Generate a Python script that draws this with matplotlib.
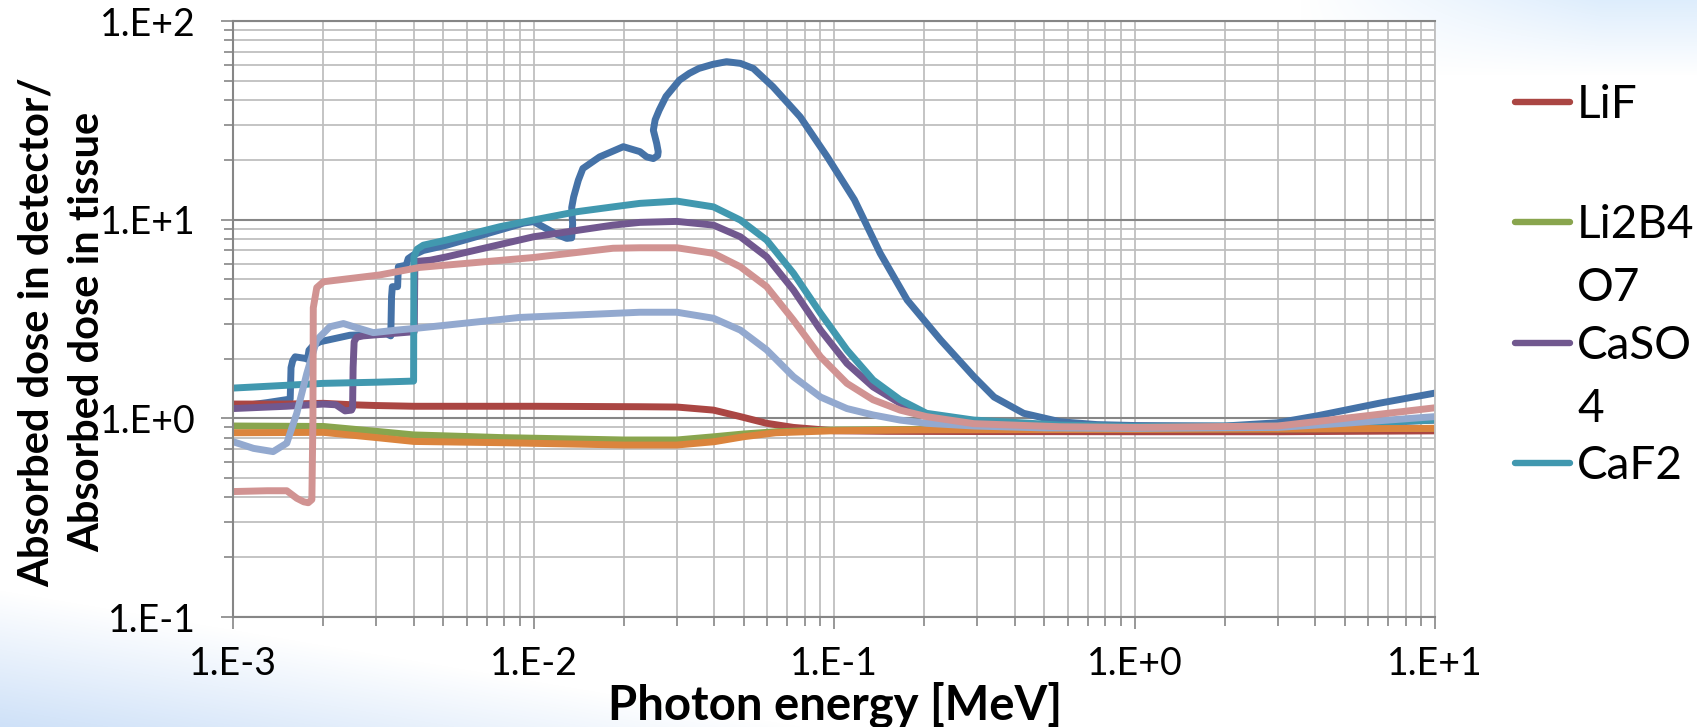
import numpy as np
import matplotlib
matplotlib.use("Agg")
import matplotlib.pyplot as plt
from matplotlib.lines import Line2D
from matplotlib.ticker import LogLocator, FuncFormatter, NullFormatter

plt.rcParams['font.family'] = ['Lato', 'DejaVu Sans']

# photon energy [MeV] / dose ratio, one pair of arrays per detector material
blue_e = [1e-3, 1.3e-3, 1.55e-3, 1.56e-3, 1.58e-3, 1.61e-3, 1.75e-3, 1.77e-3, 1.79e-3, 1.85e-3,
          1.95e-3, 2.45e-3, 3.25e-3, 3.35e-3, 3.37e-3, 3.39e-3, 3.53e-3, 3.55e-3, 3.77e-3, 3.83e-3,
          3.98e-3, 4.3e-3, 5.14e-3, 7e-3, 9.25e-3, 0.01, 0.011, 0.012, 0.0129, 0.0134, 0.0135,
          0.0134, 0.0136, 0.0141, 0.0146, 0.0166, 0.0199, 0.0226, 0.0238, 0.02505, 0.0259,
          0.026, 0.0257, 0.02505, 0.0254, 0.0262, 0.0276, 0.0306, 0.033, 0.0355, 0.0395, 0.0439,
          0.0488, 0.0539, 0.0627, 0.0772, 0.095, 0.1169, 0.1425, 0.1752, 0.2263, 0.2922, 0.341,
          0.4277, 0.5658, 0.75, 1.0, 2.0, 3.0, 4.06, 6.5, 10.0]
blue_r = [1.14, 1.2, 1.25, 1.8, 1.95, 2.04, 2.0, 1.98, 2.2, 2.33,
          2.43, 2.62, 2.66, 2.6, 4.09, 4.6, 4.6, 5.79, 5.9, 6.37,
          6.63, 7.0, 7.44, 8.5, 9.6, 9.78, 9.04, 8.4, 8.05, 8.1, 9.5,
          11.5, 13.0, 15.8, 18.1, 20.7, 23.3, 22.0, 20.7, 20.3, 21.0,
          22.0, 24.2, 28.2, 31.8, 35.6, 41.7, 50.4, 54.5, 57.7, 60.5, 62.4,
          61.2, 57.7, 46.6, 32.9, 20.7, 12.6, 6.77, 3.94, 2.48, 1.62, 1.28,
          1.06, 0.961, 0.93, 0.92, 0.915, 0.95, 1.03, 1.19, 1.34]

lif_e = [1e-3, 1.5e-3, 2e-3, 2.5e-3, 3e-3, 4e-3, 6e-3, 0.01, 0.0226, 0.03, 0.0397, 0.0488,
         0.0597, 0.0733, 0.1, 0.15, 0.3, 1.0, 3.0, 10.0]
lif_r = [1.18, 1.18, 1.19, 1.17, 1.16, 1.15, 1.15, 1.15, 1.144, 1.14, 1.10, 1.02,
         0.944, 0.90, 0.866, 0.86, 0.858, 0.856, 0.856, 0.865]

li2b4o7_e = [1e-3, 2e-3, 3e-3, 4e-3, 6e-3, 0.0078, 0.02, 0.03, 0.04, 0.05, 0.064, 0.1,
             0.2, 1.0, 3.0, 10.0]
li2b4o7_r = [0.915, 0.91, 0.86, 0.825, 0.81, 0.80, 0.778, 0.778, 0.808, 0.834, 0.856, 0.873,
             0.88, 0.885, 0.885, 0.89]

caso4_e = [1e-3, 1.5e-3, 2e-3, 2.2e-3, 2.36e-3, 2.48e-3, 2.5e-3, 2.51e-3, 2.53e-3, 2.58e-3,
           2.71e-3, 3.25e-3, 4.01e-3, 4.03e-3, 4.53e-3, 5.14e-3, 0.01, 0.0184, 0.0226, 0.03,
           0.0397, 0.0488, 0.0597, 0.0733, 0.0902, 0.1104, 0.1349, 0.166, 0.2032, 0.292,
           0.566, 1.0, 3.0, 10.0]
caso4_r = [1.12, 1.15, 1.18, 1.17, 1.09, 1.10, 1.13, 1.8, 2.43, 2.56,
           2.6, 2.66, 2.73, 6.15, 6.25, 6.5, 8.2, 9.39, 9.69, 9.8,
           9.39, 8.2, 6.5, 4.42, 2.78, 1.89, 1.44, 1.19, 1.04, 0.96,
           0.91, 0.90, 0.91, 0.98]

caf2_e = [1e-3, 2e-3, 3e-3, 3.99e-3, 4.0e-3, 4.1e-3, 4.3e-3, 5.14e-3, 7.74e-3, 0.01, 0.0139,
          0.0184, 0.0226, 0.03, 0.0397, 0.0488, 0.0597, 0.0733, 0.0902, 0.1104, 0.1349,
          0.166, 0.2032, 0.292, 0.566, 1.0, 3.0, 5.0, 10.0]
caf2_r = [1.42, 1.50, 1.52, 1.54, 6.5, 7.1, 7.44, 7.9, 9.22, 9.96, 10.96,
          11.6, 12.08, 12.4, 11.6, 9.95, 7.89, 5.37, 3.38, 2.21, 1.56,
          1.24, 1.06, 0.98, 0.925, 0.91, 0.915, 0.94, 0.98]

orange_e = [1e-3, 2e-3, 3e-3, 4e-3, 0.0078, 0.02, 0.03, 0.04, 0.05, 0.064, 0.1, 0.2,
            1.0, 3.0, 10.0]
orange_r = [0.846, 0.85, 0.80, 0.765, 0.754, 0.734, 0.734, 0.763, 0.808, 0.846, 0.866, 0.875,
            0.88, 0.885, 0.89]

lightblue_e = [1e-3, 1.17e-3, 1.36e-3, 1.51e-3, 1.63e-3, 1.76e-3, 1.9e-3, 2.1e-3, 2.33e-3,
               2.6e-3, 2.93e-3, 3.5e-3, 4.08e-3, 9e-3, 0.0226, 0.03, 0.0397, 0.0488, 0.0597,
               0.0733, 0.0902, 0.1104, 0.1349, 0.166, 0.2032, 0.292, 0.5, 1.0, 3.0, 5.0, 10.0]
lightblue_r = [0.763, 0.706, 0.68, 0.75, 1.06, 1.68, 2.48, 2.89, 3.0,
               2.85, 2.7, 2.78, 2.84, 3.22, 3.42, 3.42, 3.19, 2.78, 2.21,
               1.62, 1.28, 1.12, 1.04, 0.98, 0.944, 0.915, 0.895, 0.89, 0.9, 0.944, 1.02]

pink_e = [1e-3, 1.3e-3, 1.51e-3, 1.63e-3, 1.72e-3, 1.78e-3, 1.83e-3, 1.845e-3, 1.85e-3, 1.9e-3,
          2.0e-3, 3.08e-3, 4.18e-3, 0.01, 0.0184, 0.0226, 0.03, 0.0397, 0.0488, 0.0597, 0.0733,
          0.0902, 0.1104, 0.1349, 0.166, 0.2032, 0.292, 0.566, 1.0, 3.0, 5.0, 10.0]
pink_r = [0.428, 0.432, 0.432, 0.396, 0.38, 0.376, 0.39, 1.0, 3.6, 4.55,
          4.87, 5.27, 5.75, 6.45, 7.18, 7.22, 7.22, 6.77, 5.79, 4.6, 3.12,
          2.04, 1.50, 1.24, 1.10, 1.02, 0.94, 0.907, 0.90, 0.915, 1.0, 1.13]

series = [
    (blue_e, blue_r, '#4572A7'),
    (lif_e, lif_r, '#AA4643'),
    (li2b4o7_e, li2b4o7_r, '#89A54E'),
    (caso4_e, caso4_r, '#71588F'),
    (caf2_e, caf2_r, '#4198AF'),
    (orange_e, orange_r, '#DB843D'),
    (lightblue_e, lightblue_r, '#93A9CF'),
    (pink_e, pink_r, '#D19392'),
]

legend_labels = ["LiF", "Li2B4\nO7", "CaSO\n4", "CaF2"]
legend_colors = ['#AA4643', '#89A54E', '#71588F', '#4198AF']

W, H = 1697, 727
fig = plt.figure(figsize=(W / 100, H / 100), dpi=100)

# slide background: soft blue corners
yy, xx = np.mgrid[0:H, 0:W]
bl = np.clip((yy - (590 + 0.17 * xx)) / 150, 0, 1)
tr = np.clip((xx - 1300) / 300, 0, 1) * np.clip(1 - yy / 75, 0, 1)
img = np.ones((H, W, 3))
img -= bl[..., None] * (1 - np.array([0.79, 0.87, 0.97]))
img -= tr[..., None] * (1 - np.array([0.87, 0.93, 0.99]))
bg = fig.add_axes([0, 0, 1, 1], zorder=-1)
bg.imshow(np.clip(img, 0, 1), aspect='auto', interpolation='bilinear')
bg.axis('off')

ax = fig.add_axes([233 / W, 1 - 617 / H, 1202 / W, 596 / H])
ax.set_facecolor('white')

for e, r, c in series:
    ax.plot(e, r, color=c, lw=5, solid_joinstyle='round', solid_capstyle='round')

ax.set_xscale('log')
ax.set_yscale('log')
ax.set_xlim(1e-3, 1e1)
ax.set_ylim(0.1, 100)

for axis in (ax.xaxis, ax.yaxis):
    axis.set_major_locator(LogLocator(base=10, numticks=20))
    axis.set_minor_locator(LogLocator(base=10, subs=np.arange(2, 10), numticks=100))
    axis.set_major_formatter(FuncFormatter(lambda v, p: f"1.E{int(round(np.log10(v))):+d}"))
    axis.set_minor_formatter(NullFormatter())

ax.set_axisbelow(True)
ax.grid(which='minor', color='#BFBFBF', lw=1.3)
ax.grid(which='major', axis='x', color='#BFBFBF', lw=1.3)
ax.grid(which='major', axis='y', color='#868686', lw=1.5)

for s in ('left', 'bottom', 'top'):
    ax.spines[s].set_color('#868686')
    ax.spines[s].set_linewidth(1.5)
ax.spines['right'].set_color('#BFBFBF')
ax.spines['right'].set_linewidth(1.3)

ax.tick_params(which='major', length=8.6, width=1.2, color='#868686', labelsize=27)
ax.tick_params(which='minor', length=6.5, width=1.2, color='#868686')
ax.tick_params(axis='x', which='major', pad=12)
ax.tick_params(axis='y', which='major', pad=18)

fig.text(62 / W, 1 - 332 / H, "Absorbed dose in detector/\nAbsorbed dose in tissue",
         rotation=90, ha='center', va='center', multialignment='center',
         fontsize=30, fontweight='bold', linespacing=1.38)
fig.text(835 / W, 1 - 719 / H, "Photon energy [MeV]", ha='center', va='baseline',
         fontsize=34, fontweight='bold')

# legend, drawn entry by entry so wrapped names keep the key on the first line
for i, (lab, col) in enumerate(zip(legend_labels, legend_colors)):
    yc = 101.7 + i * 120.5
    fig.add_artist(Line2D([1515 / W, 1570 / W], [1 - yc / H] * 2, color=col, lw=4.6,
                          solid_capstyle='round', transform=fig.transFigure))
    for j, part in enumerate(lab.split("\n")):
        fig.text(1577 / W, 1 - (yc + 16 + j * 63) / H, part, ha='left', va='baseline',
                 fontsize=33)

fig.savefig("out.png", dpi=100)
